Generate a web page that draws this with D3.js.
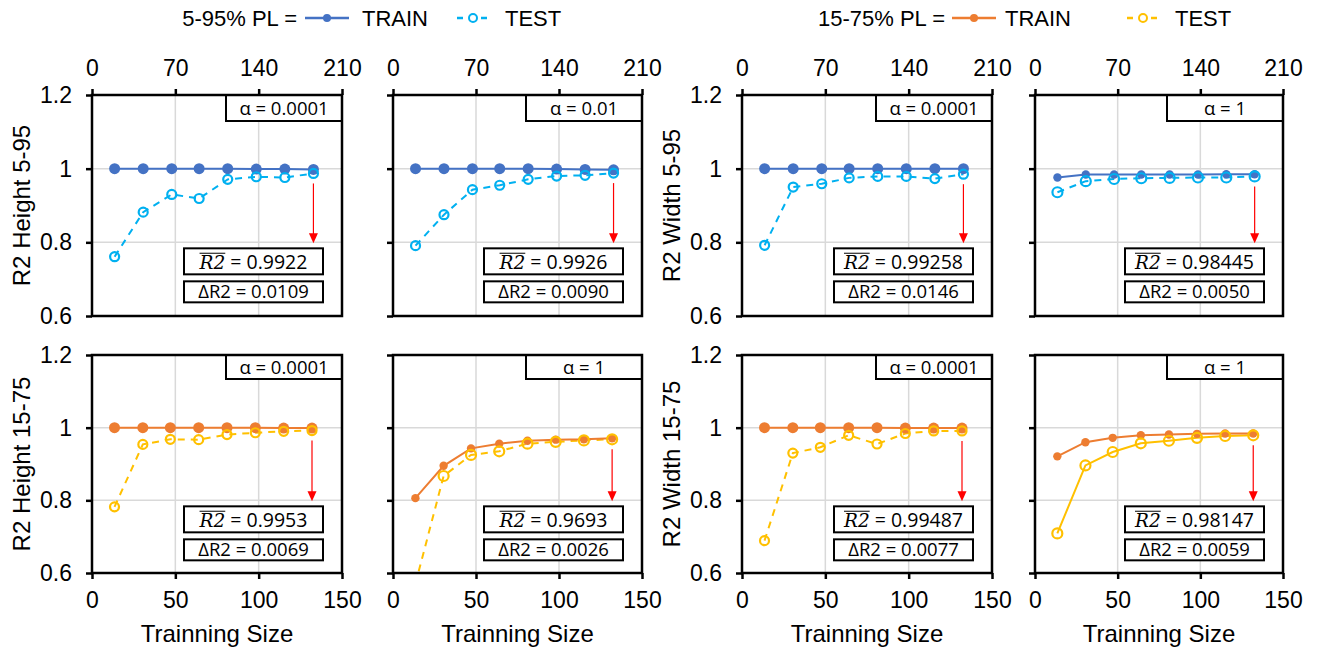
<!DOCTYPE html>
<html>
<head>
<meta charset="utf-8">
<script src="https://cdn.jsdelivr.net/npm/d3@7"></script>
<style>
  body { margin: 0; background: #fff; }
  svg { display: block; font-family: "Liberation Sans", Arial, sans-serif; }
</style>
</head>
<body>
<div id="chart"></div>
<script>
// training sizes: the top row is read on the 0-210 axis, the bottom row on 0-150
var sizeTop = [19, 43, 67, 90, 114, 138, 162, 186]
var sizeBottom = [13.5, 30.5, 47, 64, 81, 98, 115, 132]

var yTitles = ["R2 Height 5-95", "", "R2 Width 5-95", "", "R2 Height 15-75", "", "R2 Width 15-75", ""]
var alphas = ["0.0001", "0.01", "0.0001", "1", "0.0001", "1", "0.0001", "1"]
var r2Mean = ["0.9922", "0.9926", "0.99258", "0.98445", "0.9953", "0.9693", "0.99487", "0.98147"]
var r2Delta = ["0.0109", "0.0090", "0.0146", "0.0050", "0.0069", "0.0026", "0.0077", "0.0059"]

var trainR2 = [
  [1, 1, 1, 1, 1, 0.999, 0.999, 0.998],
  [1, 1, 1, 1, 1, 0.999, 0.998, 0.997],
  [1, 1, 1, 1, 1, 1, 1, 1],
  [0.976, 0.984, 0.984, 0.984, 0.984, 0.984, 0.985, 0.985],
  [1, 1, 1, 1, 1, 1, 0.999, 0.999],
  [0.806, 0.895, 0.943, 0.956, 0.964, 0.967, 0.968, 0.971],
  [1, 1, 1, 1, 1, 0.999, 0.999, 0.999],
  [0.921, 0.960, 0.972, 0.979, 0.981, 0.983, 0.984, 0.984]
]
var testR2 = [
  [0.761, 0.882, 0.930, 0.919, 0.971, 0.978, 0.976, 0.987],
  [0.791, 0.875, 0.943, 0.955, 0.971, 0.980, 0.982, 0.988],
  [0.792, 0.950, 0.959, 0.975, 0.979, 0.979, 0.973, 0.985],
  [0.936, 0.966, 0.972, 0.974, 0.975, 0.976, 0.976, 0.979],
  [0.782, 0.954, 0.968, 0.967, 0.981, 0.986, 0.990, 0.992],
  [0.570, 0.867, 0.925, 0.935, 0.956, 0.961, 0.965, 0.968],
  [0.689, 0.930, 0.946, 0.979, 0.955, 0.984, 0.991, 0.991],
  [0.709, 0.896, 0.933, 0.957, 0.964, 0.972, 0.977, 0.979]
]
var testDashed = [true, true, true, true, true, true, true, false]

var yTicks = [0.6, 0.8, 1, 1.2]
var topTicks = [0, 70, 140, 210]
var bottomTicks = [0, 50, 100, 150]

var width = 1322, height = 651
var cols = [[92, 342], [393, 642], [742, 992], [1035, 1283]]
var rows = [[95, 316], [355, 573]]
var colors = [
  {train: "#4472C4", test: "#00B0F0"},
  {train: "#ED7D31", test: "#FFC000"}
]
var boxFont = "'Open Sans', sans-serif"

var svg = d3.select('#chart')
  .append('svg')
    .attr('width', width)
    .attr('height', height)

var defs = svg.append('defs')

// legends
var legends = [
  {label: "5-95% PL =", end: 297, x0: 305, tx: 362, t0: 455, ttx: 505, c: colors[0]},
  {label: "15-75% PL =", end: 945, x0: 952, tx: 1005, t0: 1125, ttx: 1175, c: colors[1]}
]
legends.forEach(function(l) {
  var g = svg.append('g').style('font-size', '22px')
  g.append('text').attr('x', l.end).attr('y', 26).attr('text-anchor', 'end').text(l.label)
  g.append('line').attr('x1', l.x0).attr('x2', l.x0 + 44).attr('y1', 18).attr('y2', 18)
    .attr('stroke', l.c.train).attr('stroke-width', 2.5)
  g.append('circle').attr('cx', l.x0 + 22).attr('cy', 18).attr('r', 4).attr('fill', l.c.train)
  g.append('text').attr('x', l.tx).attr('y', 26).text("TRAIN")
  g.append('line').attr('x1', l.t0).attr('x2', l.t0 + 36).attr('y1', 18).attr('y2', 18)
    .attr('stroke', l.c.test).attr('stroke-width', 2.5).attr('stroke-dasharray', '6,6')
    .attr('stroke-dashoffset', -2)
  g.append('circle').attr('cx', l.t0 + 18).attr('cy', 18).attr('r', 4)
    .attr('fill', '#fff').attr('stroke', l.c.test).attr('stroke-width', 2)
  g.append('text').attr('x', l.ttx).attr('y', 26).text("TEST")
})

d3.range(8).forEach(function(i) {
  var row = i < 4 ? 0 : 1
  var col = i % 4
  var left = cols[col][0], right = cols[col][1]
  var top = rows[row][0], bottom = rows[row][1]
  var sizes = row === 0 ? sizeTop : sizeBottom
  var c = colors[row]

  var xBottom = d3.scaleLinear().domain([0, 150]).range([left, right])
  var xTop = d3.scaleLinear().domain([0, 210]).range([left, right])
  var x = row === 0 ? xTop : xBottom
  var y = d3.scaleLinear().domain([0.6, 1.2]).range([bottom, top])

  var g = svg.append('g')

  // gridlines
  g.append('g')
      .attr('stroke', '#d9d9d9')
      .attr('stroke-width', 1.5)
    .selectAll('line.h')
    .data([0.8, 1])
    .join('line')
      .attr('x1', left).attr('x2', right)
      .attr('y1', d => y(d)).attr('y2', d => y(d))
  g.append('g')
      .attr('stroke', '#d9d9d9')
      .attr('stroke-width', 1.5)
    .selectAll('line.v')
    .data([50, 100])
    .join('line')
      .attr('x1', d => xBottom(d)).attr('x2', d => xBottom(d))
      .attr('y1', top).attr('y2', bottom)

  var clipId = 'clip' + i
  defs.append('clipPath').attr('id', clipId)
    .append('rect').attr('x', left).attr('y', top).attr('width', right - left).attr('height', bottom - top)

  var plot = g.append('g').attr('clip-path', 'url(#' + clipId + ')')

  var line = d3.line()
      .x((d, j) => x(sizes[j]))
      .y(d => y(d))

  var small = alphas[i] === "1"

  // test series
  plot.append('path')
      .attr('d', line(testR2[i]))
      .attr('fill', 'none')
      .attr('stroke', c.test)
      .attr('stroke-width', 2)
      .attr('stroke-dasharray', testDashed[i] ? '7,6' : null)

  // train series
  plot.append('path')
      .attr('d', line(trainR2[i]))
      .attr('fill', 'none')
      .attr('stroke', c.train)
      .attr('stroke-width', 2)

  plot.append('g')
    .selectAll('circle')
    .data(trainR2[i])
    .join('circle')
      .attr('cx', (d, j) => x(sizes[j]))
      .attr('cy', d => y(d))
      .attr('r', small ? 4.2 : 5.5)
      .attr('fill', c.train)

  plot.append('g')
    .selectAll('circle')
    .data(testR2[i])
    .join('circle')
      .attr('cx', (d, j) => x(sizes[j]))
      .attr('cy', d => y(d))
      .attr('r', small ? 5 : 4.5)
      .attr('fill', 'none')
      .attr('stroke', c.test)
      .attr('stroke-width', 2.2)

  // alpha box
  var aw = 116, ah = row === 0 ? 26 : 24
  g.append('rect')
      .attr('x', right - aw).attr('y', top)
      .attr('width', aw).attr('height', ah)
      .attr('fill', '#fff').attr('stroke', '#000').attr('stroke-width', 2)
  g.append('text')
      .attr('x', right - aw / 2).attr('y', top + ah / 2)
      .attr('dy', '0.36em')
      .attr('text-anchor', 'middle')
      .style('font-family', boxFont)
      .style('font-size', '18.5px')
      .text("α = " + alphas[i])

  // arrow from the last test point down to the boxes
  var last = sizes.length - 1
  var ax = x(sizes[last])
  var ay1 = y(testR2[i][last]) + 10
  var ay2 = y(0.8) + 1
  g.append('line')
      .attr('x1', ax).attr('x2', ax)
      .attr('y1', ay1).attr('y2', ay2 - 8)
      .attr('stroke', '#ff0000').attr('stroke-width', 1.2)
  g.append('path')
      .attr('d', 'M' + (ax - 4.5) + ',' + (ay2 - 10) + 'L' + (ax + 4.5) + ',' + (ay2 - 10) + 'L' + ax + ',' + ay2 + 'Z')
      .attr('fill', '#ff0000')

  // R2 mean and delta boxes
  var bw = 139, bx = right - 19 - bw
  var by = y(0.8) + 6, bh = 26
  g.append('rect')
      .attr('x', bx).attr('y', by).attr('width', bw).attr('height', bh)
      .attr('fill', '#fff').attr('stroke', '#000').attr('stroke-width', 2)
  var t = g.append('text')
      .attr('x', bx + bw / 2).attr('y', by + bh / 2)
      .attr('dy', '0.38em')
      .attr('text-anchor', 'middle')
      .style('font-family', boxFont)
      .style('font-size', '19.5px')
  t.append('tspan')
      .style('font-family', "'DejaVu Serif', serif")
      .style('font-style', 'italic')
      .style('font-size', '18.5px')
      .text("R2")
  t.append('tspan').text(" = " + r2Mean[i])
  var e0 = t.node().getExtentOfChar(0)
  var e1 = t.node().getExtentOfChar(1)
  g.append('line')
      .attr('x1', e0.x).attr('x2', e1.x + e1.width)
      .attr('y1', e0.y + 1.5).attr('y2', e0.y + 1.5)
      .attr('stroke', '#000').attr('stroke-width', 1)

  var dy0 = by + bh + 7, dh = 21
  g.append('rect')
      .attr('x', bx).attr('y', dy0).attr('width', bw).attr('height', dh)
      .attr('fill', '#fff').attr('stroke', '#000').attr('stroke-width', 2)
  g.append('text')
      .attr('x', bx + bw / 2).attr('y', dy0 + dh / 2)
      .attr('dy', '0.36em')
      .attr('text-anchor', 'middle')
      .style('font-family', boxFont)
      .style('font-size', '18.5px')
      .text("ΔR2 = " + r2Delta[i])

  // frame
  g.append('rect')
      .attr('x', left).attr('y', top)
      .attr('width', right - left).attr('height', bottom - top)
      .attr('fill', 'none').attr('stroke', '#000').attr('stroke-width', 2.5)

  // axes
  var showY = col === 0 || col === 2
  var yAxis = g.append('g')
      .attr('transform', 'translate(' + left + ',0)')
      .call(d3.axisLeft(y).tickValues(yTicks).tickSize(6).tickPadding(14)
        .tickFormat(d => showY ? (d === 1 ? "1" : d3.format(".1f")(d)) : ""))
  yAxis.select('.domain').remove()
  yAxis.selectAll('line').attr('stroke-width', 2.5)
  yAxis.selectAll('text').style('font-size', '23px').style('font-family', null)

  if (row === 0) {
    var tAxis = g.append('g')
        .attr('transform', 'translate(0,' + top + ')')
        .call(d3.axisTop(xTop).tickValues(topTicks).tickSize(6).tickPadding(13))
    tAxis.select('.domain').remove()
    tAxis.selectAll('line').attr('stroke-width', 2.5)
    tAxis.selectAll('text').style('font-size', '23px').style('font-family', null)
  } else {
    var bAxis = g.append('g')
        .attr('transform', 'translate(0,' + bottom + ')')
        .call(d3.axisBottom(xBottom).tickValues(bottomTicks).tickSize(6).tickPadding(13))
    bAxis.select('.domain').remove()
    bAxis.selectAll('line').attr('stroke-width', 2.5)
    bAxis.selectAll('text').style('font-size', '23px').style('font-family', null)

    g.append('text')
        .attr('x', (left + right) / 2).attr('y', 642)
        .attr('text-anchor', 'middle')
        .style('font-size', '24px')
        .text("Trainning Size")
  }

  if (yTitles[i]) {
    g.append('text')
        .attr('transform', 'translate(' + (left - 70) + ',' + ((top + bottom) / 2) + ') rotate(-90)')
        .attr('dy', '0.35em')
        .attr('text-anchor', 'middle')
        .style('font-size', '24px')
        .text(yTitles[i])
  }
})
</script>
</body>
</html>
